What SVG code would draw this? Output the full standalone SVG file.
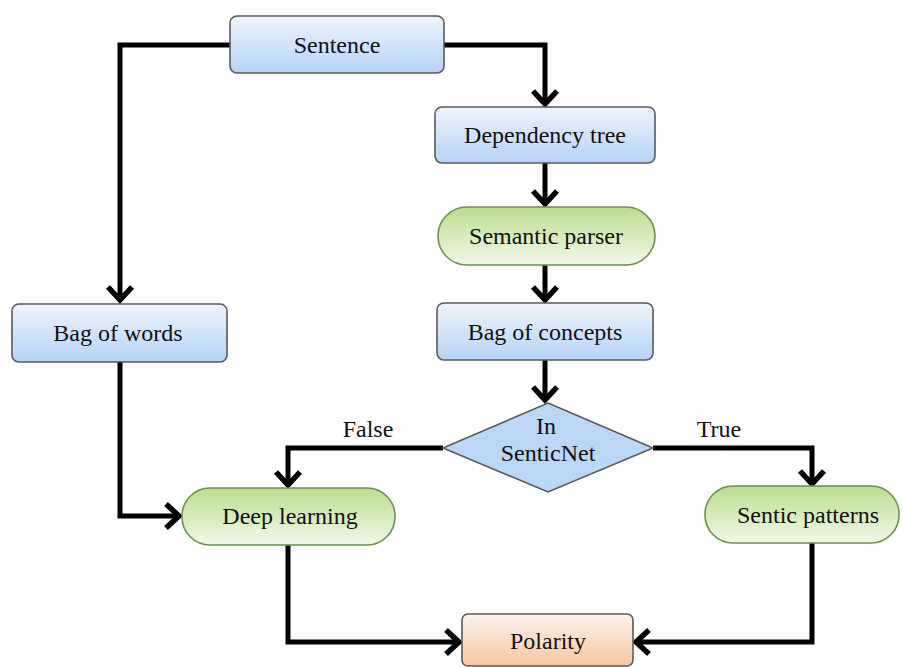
<svg xmlns="http://www.w3.org/2000/svg" width="903" height="667" viewBox="0 0 903 667">
<defs>
<linearGradient id="gBlue" x1="0" y1="0" x2="0" y2="1">
<stop offset="0" stop-color="#eef4fc"/><stop offset="1" stop-color="#b5d3f6"/>
</linearGradient>
<linearGradient id="gGreen" x1="0" y1="0" x2="0" y2="1">
<stop offset="0" stop-color="#b9dd8e"/><stop offset="1" stop-color="#f2f9ea"/>
</linearGradient>
<linearGradient id="gOrange" x1="0" y1="0" x2="0" y2="1">
<stop offset="0" stop-color="#fdf3ec"/><stop offset="1" stop-color="#f6c6a2"/>
</linearGradient>
<marker id="arr" markerUnits="userSpaceOnUse" viewBox="-16 -14 20 28" refX="0" refY="0" markerWidth="20" markerHeight="28" orient="auto" overflow="visible">
<path d="M-13,-12 L0,0 L-13,12" fill="none" stroke="#000" stroke-width="5.5" stroke-linejoin="miter"/>
</marker>
<style>
.box{stroke:#5a5a5a;stroke-width:1.6}
.blue{fill:url(#gBlue)}
.green{fill:url(#gGreen);stroke:#6f8f50}
.orange{fill:url(#gOrange)}
.lbl{font-size:24px;fill:#111;text-anchor:middle}
.edge{fill:none;stroke:#000;stroke-width:5;marker-end:url(#arr)}
</style>
</defs>
<rect width="903" height="667" fill="#fff"/>
<g id="connectors">
<path class="edge" d="M230,45 H120 V300"/>
<path class="edge" d="M444,45 H545 V104"/>
<path class="edge" d="M545,163 V204"/>
<path class="edge" d="M545,265 V300"/>
<path class="edge" d="M545,360 V400"/>
<path class="edge" d="M443,448 H288 V485"/>
<path class="edge" d="M653,448 H812 V484"/>
<path class="edge" d="M120,362 V516 H179"/>
<path class="edge" d="M288,545 V642 H459"/>
<path class="edge" d="M812,543 V642 H636"/>
</g>
<g font-family="Liberation Serif, Times New Roman, serif">
<g id="sentence">
<rect class="box blue" x="230" y="16" width="214" height="57" rx="7"/>
<text class="lbl" x="337" y="53">Sentence</text>
</g>
<g id="dependency-tree">
<rect class="box blue" x="435" y="107" width="220" height="56" rx="7"/>
<text class="lbl" x="545" y="143">Dependency tree</text>
</g>
<g id="semantic-parser">
<rect class="box green" x="438" y="207" width="217" height="58" rx="29"/>
<text class="lbl" x="546" y="244">Semantic parser</text>
</g>
<g id="bag-of-concepts">
<rect class="box blue" x="437" y="303" width="216" height="57" rx="7"/>
<text class="lbl" x="545" y="340">Bag of concepts</text>
</g>
<g id="bag-of-words">
<rect class="box blue" x="12" y="304" width="215" height="58" rx="7"/>
<text class="lbl" x="118" y="341">Bag of words</text>
</g>
<g id="in-senticnet">
<polygon class="box" fill="#bcd6f5" points="548,403 653,448 548,492 443,448"/>
<text class="lbl" x="546" y="434">In</text>
<text class="lbl" x="548" y="461">SenticNet</text>
</g>
<text class="lbl" x="368" y="437">False</text>
<text class="lbl" x="719" y="437">True</text>
<g id="deep-learning">
<rect class="box green" x="182" y="488" width="213" height="57" rx="28"/>
<text class="lbl" x="290" y="524">Deep learning</text>
</g>
<g id="sentic-patterns">
<rect class="box green" x="705" y="486" width="194" height="57" rx="28"/>
<text class="lbl" x="808" y="523">Sentic patterns</text>
</g>
<g id="polarity">
<rect class="box orange" x="462" y="614" width="171" height="52" rx="6"/>
<text class="lbl" x="548" y="649">Polarity</text>
</g>
</g>
</svg>
